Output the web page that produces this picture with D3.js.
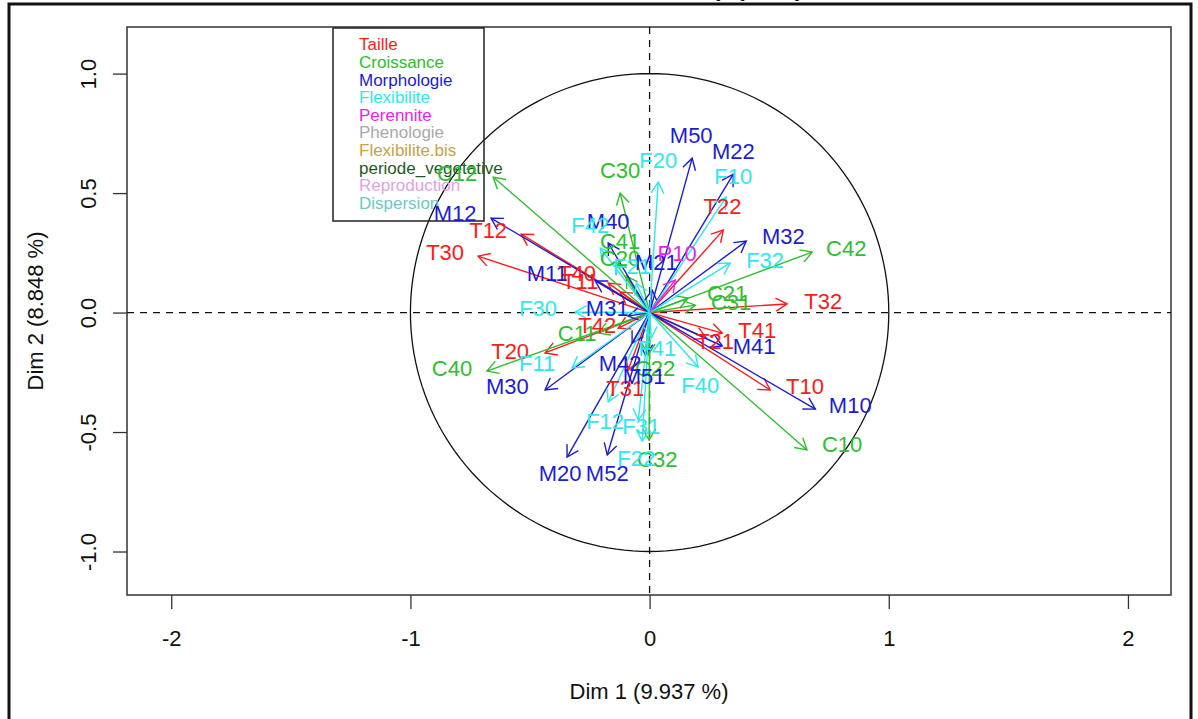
<!DOCTYPE html>
<html><head><meta charset="utf-8">
<script src="https://cdn.jsdelivr.net/npm/d3@7"></script>
<style>
html,body{margin:0;padding:0;background:#fff;}
svg{display:block;font-family:"Liberation Sans",Arial,Helvetica,sans-serif;}
</style></head>
<body><svg id="chart" width="1198" height="719"></svg>
<script>
// ---- data ----
const groupNames = ["Taille","Croissance","Morphologie","Flexibilite","Perennite","Phenologie","Flexibilite.bis","periode_vegetative","Reproduction","Dispersion"];
const groupColors = ["#ff1a1a","#2cc02c","#1c1cd6","#2ee8f0","#ee22ee","#aaaaaa","#c9a04a","#1e5a1e","#e6a0ea","#6ec8c4"];
const varNames = ["T10","T11","T12","T20","T21","T22","T30","T31","T32","T40","T41","T42",
  "C10","C11","C12","C20","C21","C22","C30","C31","C32","C40","C41","C42",
  "M10","M11","M12","M20","M21","M22","M30","M31","M32","M40","M41","M42","M50","M51","M52",
  "F10","F11","F12","F20","F21","F22","F30","F31","F32","F40","F41","F42","P10"];
const varGroup = [0,0,0,0,0,0,0,0,0,0,0,0,
  1,1,1,1,1,1,1,1,1,1,1,1,
  2,2,2,2,2,2,2,2,2,2,2,2,2,2,2,
  3,3,3,3,3,3,3,3,3,3,3,3,4];
const dim1 = [0.504,-0.123,-0.537,-0.437,0.237,0.308,-0.717,-0.090,0.575,-0.173,0.304,-0.131,
  0.658,-0.215,-0.654,-0.098,0.161,-0.006,-0.123,0.191,-0.002,-0.680,-0.144,0.680,
  0.693,-0.227,-0.663,-0.345,0.011,0.350,-0.437,-0.090,0.404,-0.173,0.304,-0.073,0.178,-0.018,-0.177,
  0.320,-0.324,-0.173,0.036,-0.056,-0.031,-0.311,-0.047,0.337,0.203,0.007,-0.206,0.107];
const dim2 = [-0.324,0.086,0.328,-0.169,-0.107,0.345,0.236,-0.241,0.036,0.123,-0.086,-0.065,
  -0.575,-0.086,0.567,0.153,0.061,-0.178,0.500,0.031,-0.534,-0.245,0.211,0.253,
  -0.404,0.132,0.395,-0.605,0.094,0.579,-0.324,-0.015,0.299,0.291,-0.140,-0.128,0.646,-0.178,-0.596,
  0.483,-0.232,-0.374,0.546,0.123,-0.538,0.002,-0.450,0.207,-0.228,-0.107,0.270,0.136];
// label anchor positions (data units, as placed by the label-repel step)
const labX = [0.650,-0.290,-0.675,-0.583,0.274,0.305,-0.855,-0.102,0.726,-0.303,0.450,-0.219,
  0.805,-0.303,-0.805,-0.123,0.324,0.023,-0.123,0.341,0.032,-0.826,-0.123,0.822,
  0.839,-0.428,-0.813,-0.374,0.028,0.350,-0.595,-0.177,0.559,-0.173,0.437,-0.123,0.174,-0.023,-0.177,
  0.350,-0.470,-0.186,0.036,-0.073,-0.056,-0.466,-0.035,0.483,0.212,0.032,-0.248,0.115];
const labY = [-0.316,0.123,0.337,-0.169,-0.127,0.437,0.245,-0.324,0.040,0.157,-0.082,-0.061,
  -0.559,-0.094,0.575,0.220,0.073,-0.241,0.588,0.036,-0.621,-0.241,0.291,0.262,
  -0.395,0.157,0.408,-0.680,0.203,0.667,-0.316,0.010,0.312,0.374,-0.149,-0.220,0.734,-0.274,-0.680,
  0.563,-0.220,-0.462,0.630,0.186,-0.617,0.010,-0.483,0.211,-0.312,-0.157,0.358,0.241];
const xTicks = [-2,-1,0,1,2];
const yTicks = [-1.0,-0.5,0.0,0.5,1.0];
const xTitle = "Dim 1 (9.937 %)";
const yTitle = "Dim 2 (8.848 %)";
const mainTitle = "Variables factor map (PCA)";

// ---- layout ----
const svg = d3.select("#chart");
const L = 127, R = 1171, T = 27, B = 595;
const x = d3.scaleLinear().domain([-2.185, 2.18]).range([L, R]);
const y = d3.scaleLinear().domain([-1.182, 1.195]).range([B, T]);
const font = "'Liberation Sans',Arial,Helvetica,sans-serif";

// outer frame
svg.append("rect").attr("x",9).attr("y",4).attr("width",1182).attr("height",740)
  .attr("fill","none").attr("stroke","#111").attr("stroke-width",3);

// clipped title (only its lowest pixels fall inside the picture)
svg.append("text").attr("x",649).attr("y",-4).attr("text-anchor","middle")
  .attr("font-size",24).attr("font-weight","bold").attr("fill","#111").text(mainTitle);

// axes
const xAxis = d3.axisBottom(x).tickValues(xTicks).tickSize(14).tickFormat(d => String(d));
const gx = svg.append("g").attr("transform",`translate(0,${B})`).call(xAxis);
gx.select(".domain").remove();
gx.selectAll("line").attr("stroke","#333").attr("stroke-width",1.3);
gx.selectAll("text").attr("font-size",22).attr("font-family",font).attr("fill","#111")
  .attr("dy",null).attr("y",45).attr("dominant-baseline","middle");

const yAxis = d3.axisLeft(y).tickValues(yTicks).tickSize(14).tickFormat(d => d.toFixed(1));
const gy = svg.append("g").attr("transform",`translate(${L},0)`).call(yAxis);
gy.select(".domain").remove();
gy.selectAll("line").attr("stroke","#333").attr("stroke-width",1.3);
gy.selectAll("text").attr("font-size",22).attr("font-family",font).attr("fill","#111")
  .attr("x",null).attr("dy",null).attr("text-anchor","middle").attr("dominant-baseline","middle")
  .attr("transform","translate(-37,0) rotate(-90)");

// plot box
svg.append("rect").attr("x",L).attr("y",T).attr("width",R-L).attr("height",B-T)
  .attr("fill","none").attr("stroke","#333").attr("stroke-width",1.5);

// axis titles
svg.append("text").attr("x",(L+R)/2).attr("y",693).attr("text-anchor","middle").attr("dominant-baseline","middle")
  .attr("font-size",22).attr("fill","#111").text(xTitle);
svg.append("text").attr("transform",`translate(37,${(T+B)/2}) rotate(-90)`).attr("text-anchor","middle")
  .attr("dominant-baseline","middle").attr("font-size",22).attr("fill","#111").text(yTitle);

// dashed reference lines
svg.append("line").attr("x1",L).attr("x2",R).attr("y1",y(0)).attr("y2",y(0))
  .attr("stroke","#111").attr("stroke-width",1.3).attr("stroke-dasharray","7,6");
svg.append("line").attr("x1",x(0)).attr("x2",x(0)).attr("y1",T).attr("y2",B)
  .attr("stroke","#111").attr("stroke-width",1.3).attr("stroke-dasharray","7,6");

// unit circle
const circ = d3.range(0, 361, 2).map(a => [Math.cos(a*Math.PI/180), Math.sin(a*Math.PI/180)]);
svg.append("path").attr("d", d3.line().x(d=>x(d[0])).y(d=>y(d[1]))(circ))
  .attr("fill","none").attr("stroke","#111").attr("stroke-width",1.3);

// legend
const lg = svg.append("g");
lg.append("rect").attr("x",333).attr("y",28).attr("width",151).attr("height",193)
  .attr("fill","none").attr("stroke","#222").attr("stroke-width",1.5);
groupNames.forEach((g,i)=>{
  lg.append("text").attr("x",359).attr("y",46+i*17.6).attr("dominant-baseline","middle")
    .attr("font-size",17).attr("fill",groupColors[i]).text(g);
});

// arrows
const head = 13, ang = Math.PI/6;
const ag = svg.append("g");
varNames.forEach((n,i)=>{
  const c = groupColors[varGroup[i]];
  const x0 = x(0), y0 = y(0), x1 = x(dim1[i]), y1 = y(dim2[i]);
  const th = Math.atan2(y1-y0, x1-x0);
  ag.append("line").attr("x1",x0).attr("y1",y0).attr("x2",x1).attr("y2",y1)
    .attr("stroke",c).attr("stroke-width",1.4);
  const p = [[x1-head*Math.cos(th-ang), y1-head*Math.sin(th-ang)],[x1,y1],[x1-head*Math.cos(th+ang), y1-head*Math.sin(th+ang)]];
  ag.append("path").attr("d", d3.line()(p)).attr("fill","none").attr("stroke",c).attr("stroke-width",1.4);
});
varNames.forEach((n,i)=>{
  ag.append("text").attr("x",x(labX[i])).attr("y",y(labY[i])).attr("text-anchor","middle")
    .attr("dominant-baseline","middle").attr("font-size",22).attr("fill",groupColors[varGroup[i]]).text(n);
});
</script></body></html>
